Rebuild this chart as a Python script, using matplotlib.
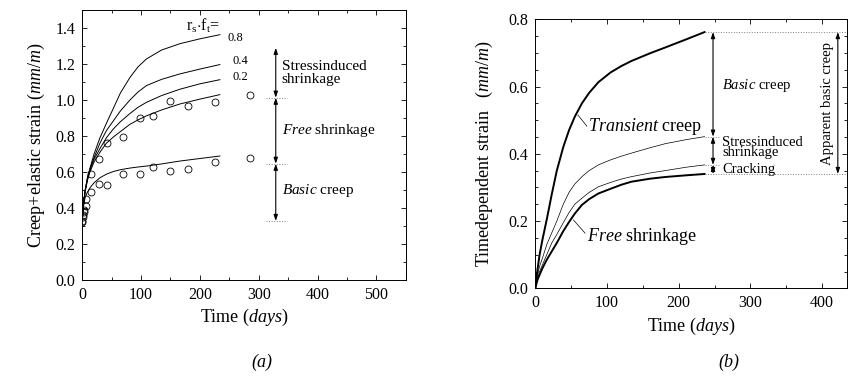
import matplotlib
matplotlib.use("Agg")
import matplotlib.pyplot as plt
from matplotlib.ticker import MultipleLocator

plt.rcParams['font.family'] = ['Liberation Serif', 'DejaVu Serif']
plt.rcParams['mathtext.fontset'] = 'custom'
plt.rcParams['mathtext.rm'] = 'Liberation Serif'
plt.rcParams['mathtext.it'] = 'Liberation Serif:italic'
plt.rcParams['mathtext.bf'] = 'Liberation Serif:bold'

# ---------------- panel (a) data ----------------
t_model_a = [0, 2, 5, 9, 13, 20, 30, 41, 53, 65, 81, 95, 109, 135, 166, 200, 234]
rf_08 = [0.33, 0.42, 0.50, 0.57, 0.62, 0.70, 0.79, 0.87, 0.955, 1.04, 1.125, 1.185, 1.228, 1.278, 1.313, 1.34, 1.363]
rf_04 = [0.33, 0.42, 0.50, 0.57, 0.615, 0.68, 0.76, 0.83, 0.885, 0.94, 1.00, 1.045, 1.08, 1.115, 1.145, 1.172, 1.197]
rf_02 = [0.33, 0.42, 0.50, 0.565, 0.61, 0.67, 0.73, 0.79, 0.84, 0.88, 0.925, 0.96, 0.987, 1.025, 1.06, 1.09, 1.113]
rf_00 = [0.33, 0.42, 0.49, 0.555, 0.60, 0.655, 0.71, 0.76, 0.795, 0.825, 0.865, 0.89, 0.912, 0.945, 0.978, 1.005, 1.03]
basic_a = [0.33, 0.41, 0.46, 0.49, 0.512, 0.54, 0.568, 0.588, 0.603, 0.613, 0.622, 0.628, 0.633, 0.645, 0.661, 0.675, 0.689]

t_obs = [0, 1, 3, 7, 14, 28, 42, 70, 98, 120, 150, 180, 225, 285]
obs_upper = [0.33, 0.36, 0.39, 0.45, 0.59, 0.674, 0.764, 0.797, 0.898, 0.912, 0.993, 0.966, 0.987, 1.026]
obs_lower = [0.32, 0.35, 0.38, 0.41, 0.49, 0.535, 0.529, 0.588, 0.588, 0.63, 0.607, 0.615, 0.655, 0.678]

rf_labels = ['0.8', '0.4', '0.2']

# ---------------- panel (b) data ----------------
t_model_b = [0, 3, 6, 10, 16, 23, 30, 39, 47, 55, 65, 75, 88, 105, 120, 134, 160, 181, 210, 236]
transient = [0.0, 0.055, 0.10, 0.145, 0.205, 0.28, 0.35, 0.42, 0.47, 0.51, 0.55, 0.581, 0.613, 0.642, 0.661, 0.676, 0.699, 0.716, 0.740, 0.762]
stressind = [0.0, 0.04, 0.065, 0.09, 0.13, 0.165, 0.20, 0.25, 0.285, 0.31, 0.332, 0.35, 0.367, 0.382, 0.393, 0.402, 0.418, 0.43, 0.442, 0.451]
cracking = [0.0, 0.03, 0.05, 0.07, 0.10, 0.135, 0.16, 0.195, 0.225, 0.25, 0.268, 0.285, 0.302, 0.315, 0.325, 0.332, 0.343, 0.35, 0.36, 0.367]
free_shr = [0.0, 0.025, 0.04, 0.06, 0.085, 0.11, 0.135, 0.17, 0.197, 0.222, 0.248, 0.265, 0.282, 0.296, 0.308, 0.317, 0.326, 0.331, 0.336, 0.34]

fig = plt.figure(figsize=(8.49, 3.76), dpi=100)
axa = fig.add_axes([0.0969, 0.2553, 0.381, 0.718])
axb = fig.add_axes([0.6305, 0.2332, 0.3675, 0.7155])

def style(ax, xmaj, xmin, ymaj, ymin):
    ax.xaxis.set_major_locator(MultipleLocator(xmaj))
    ax.xaxis.set_minor_locator(MultipleLocator(xmin))
    ax.yaxis.set_major_locator(MultipleLocator(ymaj))
    ax.yaxis.set_minor_locator(MultipleLocator(ymin))
    ax.tick_params(which='both', direction='in', top=True, right=True, width=0.6)
    ax.tick_params(which='major', length=3.5, labelsize=11.5, pad=5)
    ax.tick_params(which='minor', length=2)
    for s in ax.spines.values():
        s.set_linewidth(0.7)

# ---------- panel (a) ----------
for y in [rf_08, rf_04, rf_02, rf_00, basic_a]:
    axa.plot(t_model_a, y, color='black', lw=0.7)
axa.plot(t_obs, obs_upper, 'o', mfc='none', mec='black', ms=5, mew=0.6)
axa.plot(t_obs, obs_lower, 'o', mfc='none', mec='black', ms=5, mew=0.6)
axa.set_xlim(0, 550)
axa.set_ylim(0, 1.5)
style(axa, 100, 50, 0.2, 0.1)
axa.set_yticks([0, 0.2, 0.4, 0.6, 0.8, 1.0, 1.2, 1.4])
axa.set_yticklabels(['0.0', '0.2', '0.4', '0.6', '0.8', '1.0', '1.2', '1.4'])
axa.set_xlabel(r'Time ($\mathit{days}$)', fontsize=13, labelpad=3)
axa.set_ylabel(r'Creep+elastic strain ($\mathit{mm/m}$)', fontsize=13, labelpad=6)

axa.text(177, 1.415, r'r$_\mathrm{s}$$\cdot$f$_\mathrm{t}$=', fontsize=11.5, ha='left', va='center')
for lab, y in zip(rf_labels, [1.346, 1.216, 1.13]):
    axa.text(247 if lab == '0.8' else 256, y, lab, fontsize=9, ha='left', va='center')

arr = dict(arrowstyle='<|-|>,head_length=0.35,head_width=0.12', lw=0.8, color='black',
           shrinkA=0, shrinkB=0)
xa = 329
for y0, y1 in [(1.29, 1.013), (1.013, 0.646), (0.646, 0.328)]:
    axa.annotate('', xy=(xa, y1), xytext=(xa, y0), arrowprops=arr)
for y in [1.013, 0.646, 0.328]:
    axa.plot([313, 348], [y, y], ls=':', color='gray', lw=0.7)
axa.text(339, 1.15, 'Stressinduced\nshrinkage', fontsize=11, ha='left', va='center', linespacing=1.0)
axa.text(339, 0.829, r'$\mathit{Free}$ shrinkage', fontsize=11, ha='left', va='center')
axa.text(339, 0.50, r'$\mathit{Basic}$ creep', fontsize=11, ha='left', va='center')

fig.text(0.309, 0.035, '(a)', fontsize=13, style='italic', ha='center', va='center')

# ---------- panel (b) ----------
axb.plot(t_model_b, transient, color='black', lw=1.4)
axb.plot(t_model_b, stressind, color='black', lw=0.5)
axb.plot(t_model_b, cracking, color='black', lw=0.5)
axb.plot(t_model_b, free_shr, color='black', lw=1.4)
axb.set_xlim(0, 435)
axb.set_ylim(0, 0.8)
style(axb, 100, 50, 0.2, 0.05)
axb.set_yticks([0, 0.2, 0.4, 0.6, 0.8])
axb.set_yticklabels(['0.0', '0.2', '0.4', '0.6', '0.8'])
axb.set_xlabel(r'Time ($\mathit{days}$)', fontsize=13, labelpad=3)
axb.set_ylabel(r'Timedependent strain   ($\mathit{mm/m}$)', fontsize=13, labelpad=10)

xb = 247.8
for y0, y1 in [(0.762, 0.451), (0.451, 0.367), (0.367, 0.340)]:
    axb.annotate('', xy=(xb, y1), xytext=(xb, y0), arrowprops=arr)
axb.plot([236, 435], [0.762, 0.762], ls=':', color='gray', lw=0.7, clip_on=False)
axb.plot([236, 435], [0.340, 0.340], ls=':', color='gray', lw=0.7, clip_on=False)
axb.plot([236, 257], [0.451, 0.451], ls=':', color='gray', lw=0.7)
axb.plot([236, 257], [0.367, 0.367], ls=':', color='gray', lw=0.7)
axb.annotate('', xy=(421.8, 0.340), xytext=(421.8, 0.762), arrowprops=arr)
axb.text(407, 0.55, 'Apparent basic creep', fontsize=10.5, rotation=90, ha='center', va='center')
axb.text(261, 0.602, r'$\mathit{Basic}$ creep', fontsize=10.5, ha='left', va='center')
axb.text(261, 0.418, 'Stressinduced\nshrinkage', fontsize=10.5, ha='left', va='center', linespacing=0.75)
axb.text(261, 0.352, 'Cracking', fontsize=10.5, ha='left', va='center')

axb.plot([59.5, 72], [0.515, 0.482], color='black', lw=0.5)
axb.text(73.6, 0.48, r'$\mathit{Transient}$ creep', fontsize=13, ha='left', va='center')
axb.plot([53.3, 69.4], [0.203, 0.164], color='black', lw=0.5)
axb.text(71.8, 0.153, r'$\mathit{Free}$ shrinkage', fontsize=13, ha='left', va='center')

fig.text(0.859, 0.035, '(b)', fontsize=13, style='italic', ha='center', va='center')

fig.savefig('out.png', dpi=100)
